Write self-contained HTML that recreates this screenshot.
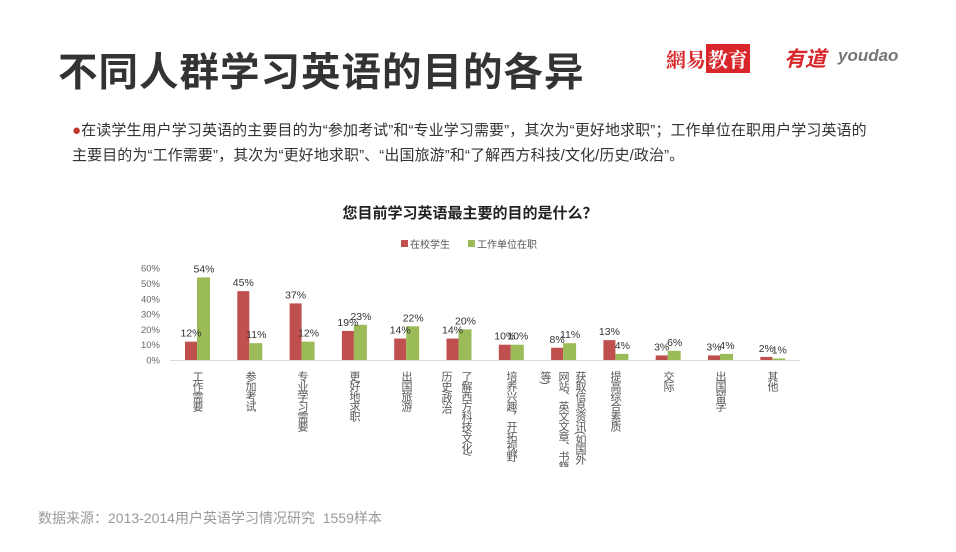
<!DOCTYPE html>
<html><head><meta charset="utf-8"><style>
body{margin:0;width:956px;height:552px;background:#fff;font-family:"Liberation Sans","Noto Sans CJK SC",sans-serif;position:relative;overflow:hidden}
.a{position:absolute;white-space:nowrap}
.v{position:absolute;writing-mode:vertical-rl;font-size:11px;color:#555;width:14px;height:100px;line-height:14px;top:371px;overflow:hidden;white-space:nowrap;letter-spacing:-1px}
</style></head><body>
<div class="a" style="left:58px;top:41px;font-size:39.5px;font-weight:bold;color:#333;letter-spacing:1px">不同人群学习英语的目的各异</div>
<div class="a" style="left:666px;top:44px;font-size:20px;color:#d8262a;font-family:'Noto Serif CJK SC',serif;font-weight:bold">網易<span style="background:#d8262a;color:#fff;padding:0 2px">教育</span></div>
<div class="a" style="left:784px;top:43px;font-size:21px;color:#d8262a;font-weight:bold;font-style:italic">有道</div>
<div class="a" style="left:838px;top:46px;font-size:17px;color:#777;font-weight:bold;font-style:italic">youdao</div>
<div class="a" style="left:72px;top:118px;font-size:15px;color:#333;line-height:25px;letter-spacing:0.1px"><span style="color:#c0392b">●</span>在读学生用户学习英语的主要目的为“参加考试”和“专业学习需要”，其次为“更好地求职”；工作单位在职用户学习英语的<br>主要目的为“工作需要”，其次为“更好地求职”、“出国旅游”和“了解西方科技/文化/历史/政治”。</div>
<div class="a" style="left:0;width:940px;text-align:center;top:202px;font-size:15px;font-weight:bold;color:#222">您目前学习英语最主要的目的是什么？</div>
<div class="a" style="left:401px;top:240px;width:7px;height:7px;background:#c0504d"></div>
<div class="a" style="left:410px;top:236px;font-size:10px;color:#555">在校学生</div>
<div class="a" style="left:468px;top:240px;width:7px;height:7px;background:#9bbb59"></div>
<div class="a" style="left:477px;top:236px;font-size:10px;color:#555">工作单位在职</div>
<svg class="a" style="left:0;top:0" width="956" height="552" id="s"></svg>
<div class="a" style="left:38px;top:508px;font-size:14px;color:#999">数据来源：2013-2014用户英语学习情况研究&nbsp; 1559样本</div>
<div class="v" style="left:190px">工作需要</div>
<div class="v" style="left:243px">参加考试</div>
<div class="v" style="left:295px">专业学习需要</div>
<div class="v" style="left:347px">更好地求职</div>
<div class="v" style="left:399px">出国旅游</div>
<div class="v" style="left:459px">了解西方科技/文化/</div>
<div class="v" style="left:439px">历史/政治</div>
<div class="v" style="left:504px">培养兴趣，开拓视野</div>
<div class="v" style="left:573px;height:96px">获取信息资讯(如国外</div>
<div class="v" style="left:556px;height:96px">网站、英文文章、书籍</div>
<div class="v" style="left:538px">等)</div>
<div class="v" style="left:608px">提高综合素质</div>
<div class="v" style="left:661px">交际</div>
<div class="v" style="left:713px">出国留学</div>
<div class="v" style="left:765px">其他</div>
<script>
var r=[12,45,37,19,14,14,10,8,13,3,3,2],g=[54,11,12,23,22,20,10,11,4,6,4,1];
var s='',b=360,k=1.53;
for(var i=0;i<=6;i++){var y=b-i*10*k;s+='<text x="160" y="'+(y+3.5)+'" font-size="9.5" fill="#666" text-anchor="end">'+(i*10)+'%</text>';}
s+='<line x1="170" y1="360.5" x2="800" y2="360.5" stroke="#d9d9d9"/>';
for(var i=0;i<12;i++){var c=197+i*52.3,hr=r[i]*k,hg=g[i]*k;
s+='<rect x="'+(c-12)+'" y="'+(b-hr)+'" width="12" height="'+hr+'" fill="#c0504d"/>';
s+='<rect x="'+c+'" y="'+(b-hg)+'" width="13" height="'+hg+'" fill="#9bbb59"/>';
s+='<text x="'+(c-6)+'" y="'+(b-hr-5)+'" font-size="10.5" fill="#333" text-anchor="middle">'+r[i]+'%</text>';
s+='<text x="'+(c+7)+'" y="'+(b-hg-5)+'" font-size="10.5" fill="#333" text-anchor="middle">'+g[i]+'%</text>';}
document.getElementById('s').innerHTML=s;
</script>
</body></html>
